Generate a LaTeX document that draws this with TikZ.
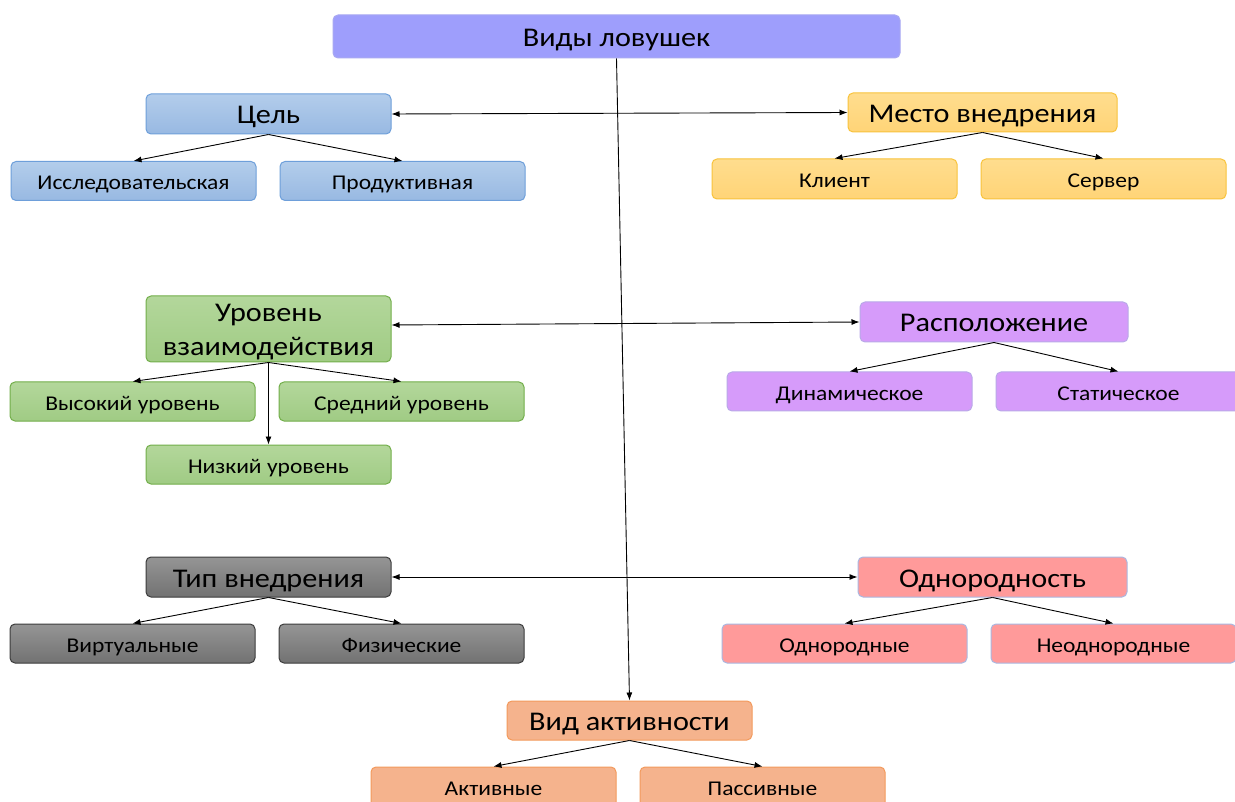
\documentclass[tikz,border=0pt]{standalone}
\usepackage{fontspec}
\setmainfont{Carlito}[FakeStretch=1.12]
\usetikzlibrary{arrows.meta}
\definecolor{topfill}{HTML}{9E9EFC}
\definecolor{topdraw}{HTML}{A9A9F2}
\definecolor{blueA}{HTML}{B3CDEB}
\definecolor{blueB}{HTML}{98B9E2}
\definecolor{bluedraw}{HTML}{6E9FDA}
\definecolor{yelA}{HTML}{FFDD8E}
\definecolor{yelB}{HTML}{FFD477}
\definecolor{yeldraw}{HTML}{F8C33C}
\definecolor{grnA}{HTML}{B3D79B}
\definecolor{grnB}{HTML}{A0CB84}
\definecolor{grndraw}{HTML}{72AE4A}
\definecolor{purfill}{HTML}{D69BFA}
\definecolor{purdraw}{HTML}{B9A9E8}
\definecolor{gryA}{HTML}{959595}
\definecolor{gryB}{HTML}{727272}
\definecolor{grydraw}{HTML}{3C3C3C}
\definecolor{pnkfill}{HTML}{FF9A9A}
\definecolor{pnkdraw}{HTML}{A9B8E2}
\definecolor{salfill}{HTML}{F5B38D}
\definecolor{saldraw}{HTML}{F39A5C}
\tikzset{
  box/.style={rounded corners=5pt, line width=1pt, inner sep=0pt, align=center, text=black},
  headfont/.style={font=\fontsize{27}{34}\selectfont},
  head/.style={box, headfont, minimum width=245pt, minimum height=40pt, text height=20pt, text depth=0pt},
  leaf/.style={box, minimum width=245pt, minimum height=39pt, font=\fontsize{21}{25}\selectfont, text height=17pt, text depth=0pt},
  cblue/.style={top color=blueA, bottom color=blueB, draw=bluedraw},
  cyel/.style={top color=yelA, bottom color=yelB, draw=yeldraw},
  cgrn/.style={top color=grnA, bottom color=grnB, draw=grndraw},
  cpur/.style={fill=purfill, draw=purdraw},
  cgry/.style={top color=gryA, bottom color=gryB, draw=grydraw},
  cpnk/.style={fill=pnkfill, draw=pnkdraw},
  csal/.style={fill=salfill, draw=saldraw},
  conn/.style={line width=0.9pt, -{Latex[length=8pt,width=6pt]}},
  biconn/.style={line width=0.9pt, {Latex[length=8pt,width=6pt]}-{Latex[length=8pt,width=6pt]}},
}
\begin{document}
\begin{tikzpicture}[x=1pt,y=-1pt]
\clip (0,0) rectangle (1235,802);
\fill[white] (0,0) rectangle (1235,802);
% root
\node[head, fill=topfill, draw=topdraw, minimum width=567pt, minimum height=43pt] (vidy) at (616.5,36.5) {Виды ловушек};
% Цель
\node[head, cblue] (cel) at (268.5,114) {Цель};
\node[leaf, cblue] (issl) at (133.5,181) {Исследовательская};
\node[leaf, cblue] (prod) at (402.5,181) {Продуктивная};
% Место внедрения
\node[head, cyel, minimum width=269pt, minimum height=39pt] (mesto) at (982.5,112.5) {Место внедрения};
\node[leaf, cyel, minimum height=40pt] (klient) at (834.5,179) {Клиент};
\node[leaf, cyel, minimum height=40pt] (server) at (1103.5,179) {Сервер};
% Уровень взаимодействия
\node[box, headfont, cgrn, minimum width=245pt, minimum height=66pt] (uroven) at (268.5,329) {\rule{0pt}{24pt}Уровень\\взаимодействия};
\node[leaf, cgrn] (vys) at (132.5,401.5) {Высокий уровень};
\node[leaf, cgrn] (sred) at (401.5,401.5) {Средний уровень};
\node[leaf, cgrn] (niz) at (268.5,464.5) {Низкий уровень};
% Расположение
\node[head, cpur, minimum width=268pt] (rasp) at (994,322) {Расположение};
\node[leaf, cpur] (din) at (849.5,391.5) {Динамическое};
\node[leaf, cpur] (stat) at (1118.5,391.5) {Статическое};
% Тип внедрения
\node[head, cgry] (tip) at (268.5,577) {Тип внедрения};
\node[leaf, cgry] (virt) at (132.5,643.5) {Виртуальные};
\node[leaf, cgry] (fiz) at (401.5,643.5) {Физические};
% Однородность
\node[head, cpnk, minimum width=269pt] (odnost) at (992.5,577) {Однородность};
\node[leaf, cpnk] (odn) at (844.5,643.5) {Однородные};
\node[leaf, cpnk] (neodn) at (1113.5,643.5) {Неоднородные};
% Вид активности
\node[head, csal, minimum height=39pt] (akt) at (629.5,720.5) {Вид активности};
\node[leaf, csal, minimum height=40pt] (aktiv) at (493.5,787) {Активные};
\node[leaf, csal, minimum height=40pt] (passiv) at (762.5,787) {Пассивные};
% connectors
\draw[conn] (vidy.south) -- (akt.north);
\draw[biconn] (cel.east) -- (mesto.west);
\draw[biconn] ([yshift=4pt]uroven.east) -- (rasp.west);
\draw[biconn] (tip.east) -- (odnost.west);
\foreach \p/\c in {cel/issl, cel/prod, mesto/klient, mesto/server, uroven/vys, uroven/sred, uroven/niz, rasp/din, rasp/stat, tip/virt, tip/fiz, odnost/odn, odnost/neodn, akt/aktiv, akt/passiv}
  \draw[conn] (\p.south) -- (\c.north);
\end{tikzpicture}
\end{document}
